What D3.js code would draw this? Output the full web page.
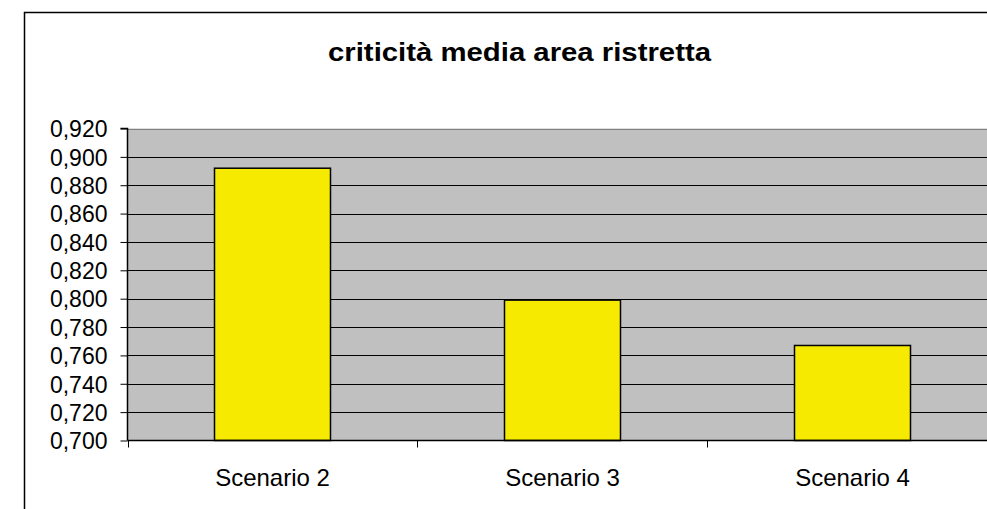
<!DOCTYPE html>
<html>
<head>
<meta charset="utf-8">
<script src="https://cdn.jsdelivr.net/npm/d3@7"></script>
<style>
  html, body { margin: 0; padding: 0; background: #fff; }
  svg { display: block; font-family: Arial, "Liberation Sans", sans-serif; }
</style>
</head>
<body>
<svg id="chart" width="987" height="509"></svg>
<script>
const title = "criticità media area ristretta";
const categories = ["Scenario 2", "Scenario 3", "Scenario 4"];
const values = [0.892, 0.799, 0.767];
const yTicks = [0.700, 0.720, 0.740, 0.760, 0.780, 0.800, 0.820, 0.840, 0.860, 0.880, 0.900, 0.920];

const svg = d3.select("#chart");
const plot = { left: 127.5, right: 997.5, top: 128.5, bottom: 440.5 };

// outer frame
svg.append("rect")
  .attr("x", 24.5).attr("y", 12.5)
  .attr("width", 1100).attr("height", 600)
  .attr("fill", "#fff").attr("stroke", "#000").attr("stroke-width", 1.5);

// title
svg.append("text")
  .attr("x", 519.5).attr("y", 61)
  .attr("text-anchor", "middle")
  .attr("font-size", 26.5).attr("font-weight", "bold")
  .attr("textLength", 383).attr("lengthAdjust", "spacingAndGlyphs")
  .text(title);

const x = d3.scaleBand().domain(categories)
  .range([plot.left, plot.right]).paddingInner(0.6).paddingOuter(0.3);
const y = d3.scaleLinear().domain([0.70, 0.92]).range([plot.bottom, plot.top]);

// plot background
svg.append("rect")
  .attr("x", plot.left).attr("y", plot.top)
  .attr("width", plot.right - plot.left).attr("height", plot.bottom - plot.top)
  .attr("fill", "#c0c0c0");

// gridlines
svg.append("g").selectAll("line").data(yTicks.slice(1)).join("line")
  .attr("x1", plot.left).attr("x2", plot.right)
  .attr("y1", d => Math.round(y(d)) + 0.5).attr("y2", d => Math.round(y(d)) + 0.5)
  .attr("stroke", d => d === 0.92 ? "#808080" : "#000").attr("stroke-width", 1);

// bars
svg.append("g").selectAll("rect").data(values).join("rect")
  .attr("x", (d, i) => x(categories[i]))
  .attr("y", d => y(d))
  .attr("width", x.bandwidth())
  .attr("height", d => plot.bottom - y(d))
  .attr("fill", "#f5ea00")
  .attr("stroke", "#000").attr("stroke-width", 1.5);

// y axis
const yAxis = d3.axisLeft(y).tickValues(yTicks).tickSize(7).tickPadding(13)
  .tickFormat(d => d3.format(".3f")(d).replace(".", ","));
const gy = svg.append("g").attr("transform", `translate(${plot.left},0)`).call(yAxis);
gy.select(".domain").attr("stroke", "#000").attr("stroke-width", 1.5).attr("d", `M-7,${plot.top}H0V${plot.bottom}`);
gy.selectAll(".tick line").attr("stroke", "#000");
gy.selectAll(".tick text").attr("font-size", 23).attr("font-family", "Arial, 'Liberation Sans', sans-serif")
  .attr("fill", "#000").attr("dy", "0.36em");

// x axis
const xAxis = d3.axisBottom(x).tickSize(0).tickPadding(28);
const gx = svg.append("g").attr("transform", `translate(0,${plot.bottom})`).call(xAxis);
gx.select(".domain").attr("stroke", "#000").attr("stroke-width", 1.5).attr("d", `M${plot.left},0H${plot.right}`);
gx.selectAll(".tick text").attr("font-size", 24).attr("font-family", "Arial, 'Liberation Sans', sans-serif")
  .attr("fill", "#000").attr("dy", "0.71em");
// category boundary ticks
const bounds = [plot.left, ...categories.slice(1).map(c => x(c) - x.step() * x.paddingInner() / 2 - 0.5), plot.right];
gx.append("g").selectAll("line").data(bounds).join("line")
  .attr("x1", d => Math.round(d) + 0.5).attr("x2", d => Math.round(d) + 0.5)
  .attr("y1", 0).attr("y2", 7)
  .attr("stroke", "#000").attr("stroke-width", 1);
</script>
</body>
</html>
